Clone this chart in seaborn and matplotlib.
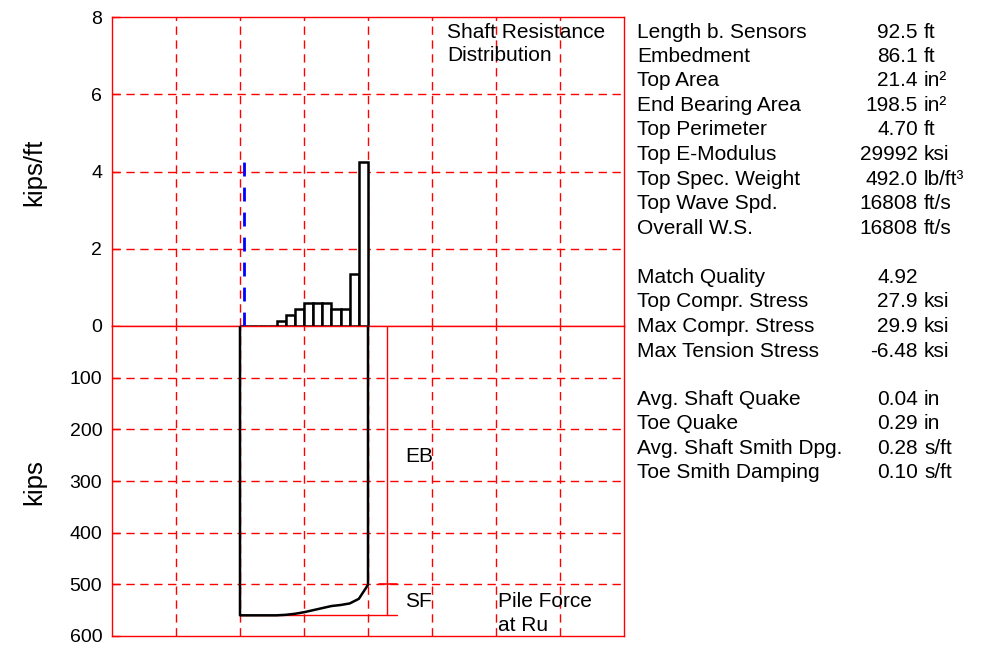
import matplotlib
matplotlib.use("Agg")
import matplotlib.pyplot as plt
import seaborn as sns
import numpy as np
import pandas as pd

# ---------------- data ----------------
pile_length = 92.5                      # ft, length below sensors
n_segments = 14
shaft_resistance = [0.0, 0.0, 0.0, 0.0, 0.14, 0.29, 0.43, 0.60, 0.60, 0.60,
                    0.43, 0.43, 1.35, 4.24]          # kips/ft per segment
pile_force = [560, 560, 560, 560, 560, 559, 557, 554, 550, 546, 542, 540,
              537, 528, 501]                        # kips at segment boundaries
blue_marker_depth = 3.0                 # ft
blue_marker_height = 4.3                # kips/ft
ru_total = 560                          # kips
end_bearing = 500                       # kips

top_yticks = [0, 2, 4, 6, 8]
bottom_yticks = [100, 200, 300, 400, 500, 600]

info_labels = ["Length b. Sensors", "Embedment", "Top Area", "End Bearing Area",
               "Top Perimeter", "Top E-Modulus", "Top Spec. Weight",
               "Top Wave Spd.", "Overall W.S.",
               "Match Quality", "Top Compr. Stress", "Max Compr. Stress",
               "Max Tension Stress",
               "Avg. Shaft Quake", "Toe Quake", "Avg. Shaft Smith Dpg.",
               "Toe Smith Damping"]
info_numbers = ["92.5", "86.1", "21.4", "198.5", "4.70", "29992", "492.0",
                "16808", "16808",
                "4.92", "27.9", "29.9", "-6.48",
                "0.04", "0.29", "0.28", "0.10"]
info_units = ["ft", "ft", "in²", "in²", "ft", "ksi", "lb/ft³", "ft/s", "ft/s",
              "", "ksi", "ksi", "ksi",
              "in", "in", "s/ft", "s/ft"]
info_rows_px = [31, 55, 79, 104, 128, 153, 178, 202, 227,
                276, 300, 325, 350,
                398, 422, 447, 471]

# ---------------- style ----------------
sns.set_theme(style="white")
plt.rcParams["font.family"] = ["Liberation Sans", "DejaVu Sans"]
plt.rcParams["text.color"] = "black"
FS = 15
TFS = 14
RED = "#ff0000"

W, H = 994, 647
fig = plt.figure(figsize=(W / 100, H / 100), dpi=100)
fig.patch.set_facecolor("white")


def ftext(xpx, ypx, s, **kw):
    fig.text(xpx / W, 1 - (ypx + 1.5) / H, s, va="center", fontsize=kw.pop("fontsize", FS), **kw)


L, R = 112 / W, 624 / W
T, M, B = 1 - 17 / H, 1 - 326 / H, 1 - 636 / H
ax_top = fig.add_axes([L, M, R - L, T - M])
ax_bot = fig.add_axes([L, B, R - L, M - B], sharex=ax_top)

unit = pile_length / 2.0
xmin, xmax = -2 * unit, 6 * unit
grid_x = [k * unit for k in range(-1, 6)]
dash = (0, (6, 4))

for ax in (ax_top, ax_bot):
    ax.set_facecolor("white")
    for s in ax.spines.values():
        s.set_color(RED)
        s.set_linewidth(1.0)
    ax.set_xlim(xmin, xmax)
    for gx in grid_x:
        ax.axvline(gx, color=RED, lw=1.0, ls=dash, zorder=0.5)
    ax.tick_params(axis="y", direction="in", length=6, color=RED, width=1,
                   labelsize=TFS, labelcolor="black", pad=7, left=True)
    ax.tick_params(axis="x", bottom=False, labelbottom=False)
    ax.set_xticks([])

# ----- top panel: shaft resistance distribution -----
seg = pile_length / n_segments
edges = np.arange(n_segments + 1) * seg
ax_top.set_ylim(0, 8)
ax_top.set_yticks(top_yticks)
for gy in top_yticks[1:-1]:
    ax_top.axhline(gy, color=RED, lw=1.0, ls=dash, zorder=0.5)
ax_top.bar(edges[:-1], shaft_resistance, width=seg, align="edge",
           color="white", edgecolor="black", linewidth=1.8, zorder=3)
sns.lineplot(x=[blue_marker_depth, blue_marker_depth], y=[0, blue_marker_height],
             ax=ax_top, color="#0000ff", lw=2.0, linestyle=(0, (5, 4)),
             zorder=4, estimator=None, sort=False)
ax_top.set_xlabel("")
ax_top.set_ylabel("")

# ----- bottom panel: pile force at Ru -----
ax_bot.set_ylim(600, 0)
ax_bot.set_yticks(bottom_yticks)
for gy in bottom_yticks[:-1]:
    ax_bot.axhline(gy, color=RED, lw=1.0, ls=dash, zorder=0.5)

curve = pd.DataFrame({
    "x": np.concatenate([[0.0], edges, [pile_length]]),
    "y": np.concatenate([[0.0], pile_force, [0.0]]),
})
sns.lineplot(data=curve, x="x", y="y", ax=ax_bot, color="black", lw=1.8,
             sort=False, estimator=None, zorder=4)

# dimension lines EB / SF
x_dim = 106.2
x_end = 113.5
ax_bot.plot([0, x_end], [ru_total, ru_total], color=RED, lw=1.0, zorder=3)
ax_bot.plot([x_dim, x_dim], [0, ru_total], color=RED, lw=1.0, zorder=3)
ax_bot.plot([100.2, x_end], [end_bearing, end_bearing], color=RED, lw=1.2, zorder=3)
ax_bot.set_xlabel("")
ax_bot.set_ylabel("")

# annotations
ftext(447, 31, "Shaft Resistance", ha="left")
ftext(447, 54, "Distribution", ha="left")
ftext(405, 455, "EB", ha="left")
ftext(405, 600, "SF", ha="left")
ftext(498, 600, "Pile Force", ha="left")
ftext(498, 624, "at Ru", ha="left")

# axis titles
fig.text(34 / W, 1 - 172 / H, "kips/ft", rotation=90, ha="center", va="center", fontsize=18.5)
fig.text(34 / W, 1 - 482 / H, "kips", rotation=90, ha="center", va="center", fontsize=18.5)

# info panel
for lab, num, un, ypx in zip(info_labels, info_numbers, info_units, info_rows_px):
    ftext(637, ypx, lab, ha="left")
    ftext(918, ypx, num, ha="right")
    if un:
        ftext(924, ypx, un, ha="left")

fig.savefig("out.png", dpi=100, facecolor="white")
